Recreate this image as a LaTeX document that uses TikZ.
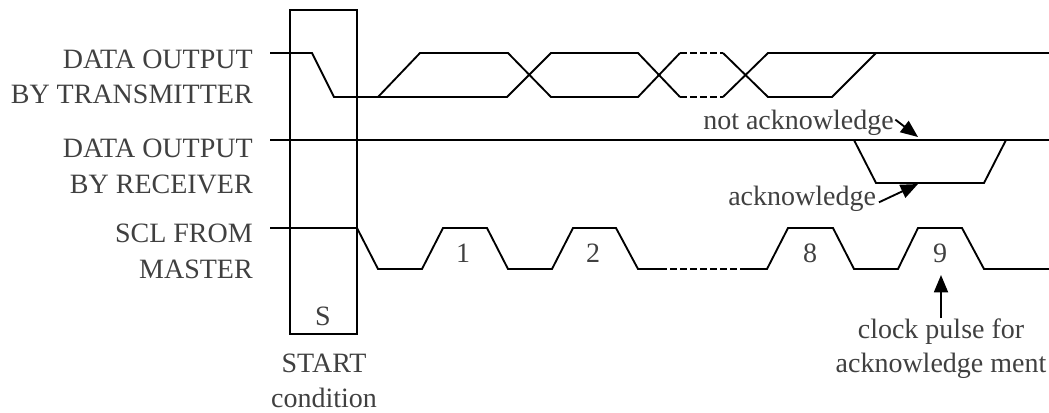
\documentclass[tikz,border=0pt]{standalone}
\usepackage{fontspec}
\setmainfont{Liberation Serif}
\usetikzlibrary{arrows.meta}
\begin{document}
\begin{tikzpicture}[x=0.75pt,y=-0.75pt,
  wave/.style={line width=1.4pt, line join=miter},
  dsh/.style={wave, dash pattern=on 5pt off 2.5pt},
  lbl/.style={font=\fontsize{21}{25}\selectfont, text=black!75, inner sep=0pt},
  ptr/.style={line width=1.4pt, -{Triangle[length=13pt,width=10.5pt]}}]
\useasboundingbox (0,0) rectangle (1049,412);
% labels
\node[lbl,anchor=base east] (t1) at (253,68) {DATA OUTPUT};
\node[lbl,anchor=base east] (t2) at (253,103) {BY TRANSMITTER};
\node[lbl,anchor=base east] (r1) at (253,157) {DATA OUTPUT};
\node[lbl,anchor=base east] (r2) at (253,193) {BY RECEIVER};
\node[lbl,anchor=base east] (c1) at (253,242) {SCL FROM};
\node[lbl,anchor=base east] (c2) at (253,278) {MASTER};
% start box
\draw[line width=1.3pt] (290,10) rectangle (357,334);
\node[lbl,anchor=base] (s) at (323,325) {S};
\node[lbl,anchor=base] (st1) at (324,372) {START};
\node[lbl,anchor=base] (st2) at (324,407) {condition};
% transmitter
\draw[wave] (270,53) -- (312,53) -- (334,97) -- (507,97) -- (551,53) -- (638,53) -- (680,97);
\draw[dsh] (680,97) -- (723,97);
\draw[wave] (723,97) -- (768,53) -- (1049,53);
\draw[wave] (378,97) -- (420,53) -- (508,53) -- (551,97) -- (638,97) -- (680,53);
\draw[dsh] (680,53) -- (723,53);
\draw[wave] (723,53) -- (768,97) -- (832,97) -- (876,53);
% receiver
\draw[wave] (270,140) -- (1049,140);
\draw[wave] (854,140) -- (876,183) -- (984,183) -- (1006,140);
% SCL
\draw[wave] (270,228) -- (357,228) -- (378,269) -- (422,269) -- (443,228) -- (487,228) -- (508,269) -- (552,269) -- (573,228) -- (616,228) -- (638,269) -- (660,269);
\draw[dsh] (660,269) -- (745,269);
\draw[wave] (745,269) -- (767,269) -- (788,228) -- (833,228) -- (854,269) -- (898,269) -- (918,228) -- (962,228) -- (984,269) -- (1049,269);
\node[lbl,anchor=base] (n1) at (463,262) {1};
\node[lbl,anchor=base] (n2) at (593,262) {2};
\node[lbl,anchor=base] (n8) at (810,262) {8};
\node[lbl,anchor=base] (n9) at (940,262) {9};
% annotations
\node[lbl,anchor=base west] (nak) at (703,129) {not acknowledge};
\coordinate (naktip) at (918,137);
\draw[ptr] ([xshift=1pt,yshift=2pt]nak.east) -- (naktip);
\node[lbl,anchor=base west] (ak) at (728,205) {acknowledge};
\coordinate (aktip) at (918,184);
\draw[ptr] ([xshift=2pt,yshift=-3pt]ak.east) -- (aktip);
\node[lbl,anchor=base] (cp1) at (941,338) {clock pulse for};
\node[lbl,anchor=base] (cp2) at (941,372) {acknowledge ment};
\coordinate (cptip) at (941,275);
\draw[ptr] (cp1.north) -- (cptip);
\end{tikzpicture}
\end{document}
